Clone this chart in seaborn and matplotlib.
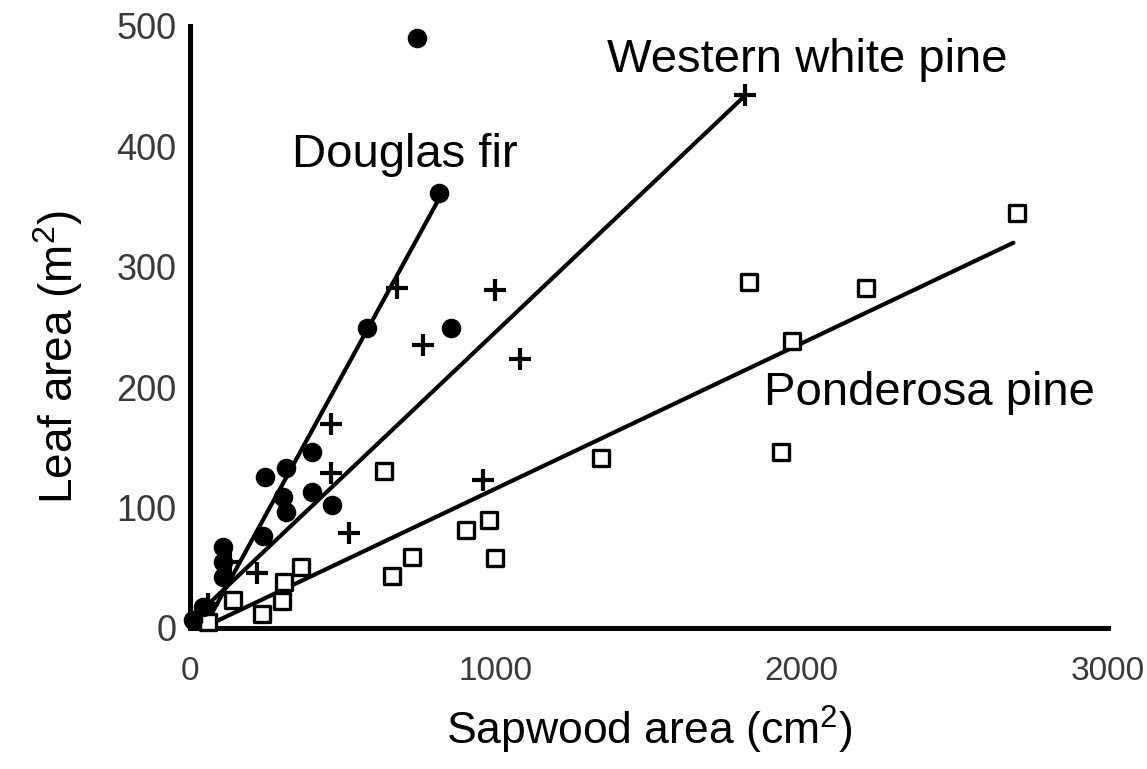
import numpy as np
import pandas as pd
import matplotlib
matplotlib.use("Agg")
import matplotlib.pyplot as plt
import seaborn as sns

# data (sapwood area cm2, leaf area m2)
fir_x = [743, 815, 578, 854, 399, 315, 244, 399, 305, 315, 464, 240, 107, 107, 107, 42, 10]
fir_y = [490, 361, 249, 249, 146, 133, 125, 113, 109, 96, 102, 76, 67, 55, 42, 17, 7]

wwp_x = [1815, 675, 997, 763, 1078, 461, 461, 958, 519, 218, 130, 60]
wwp_y = [443, 282, 281, 235, 223, 169, 129, 123, 79, 46, 55, 20]

pp_x = [2705, 1828, 2211, 1968, 1932, 1344, 633, 977, 903, 997, 724, 659, 364, 308, 302, 234, 140, 60]
pp_y = [345, 287, 282, 238, 146, 141, 130, 90, 81, 58, 59, 43, 51, 38, 22, 12, 23, 5]

# fitted lines, end points
fir_fit_x = [45, 815]
fir_fit_y = [0, 357]
wwp_fit_x = [40, 1818]
wwp_fit_y = [15, 443]
pp_fit_x = [40, 2692]
pp_fit_y = [0, 320]

sns.set_style("white")
plt.rcParams["font.family"] = ["Liberation Sans", "DejaVu Sans"]
plt.rcParams["mathtext.fontset"] = "custom"
plt.rcParams["mathtext.rm"] = "Liberation Sans"
plt.rcParams["text.color"] = "black"
plt.rcParams["axes.labelcolor"] = "black"

fig = plt.figure(figsize=(11.47, 7.69), dpi=100)
ax = fig.add_axes([0.1657, 0.1834, 0.8, 0.7828])

fir = pd.DataFrame({"x": fir_x, "y": fir_y})
wwp = pd.DataFrame({"x": wwp_x, "y": wwp_y})
pp = pd.DataFrame({"x": pp_x, "y": pp_y})

# fit lines
for fx, fy in [(fir_fit_x, fir_fit_y), (wwp_fit_x, wwp_fit_y), (pp_fit_x, pp_fit_y)]:
    sns.lineplot(x=fx, y=fy, ax=ax, color="black", linewidth=3, clip_on=False)

sns.scatterplot(data=pp, x="x", y="y", ax=ax, marker="s", s=130,
                facecolor="white", edgecolor="black", linewidth=2.4, clip_on=False, zorder=3)
sns.scatterplot(data=wwp, x="x", y="y", ax=ax, marker="+", s=260,
                color="black", linewidth=3, clip_on=False, zorder=4)
sns.scatterplot(data=fir, x="x", y="y", ax=ax, marker="o", s=170,
                color="black", edgecolor="black", clip_on=False, zorder=5)

ax.set_xlim(0, 3000)
ax.set_ylim(0, 500)
ax.set_xticks([0, 500, 1000, 1500, 2000, 2500, 3000])
ax.set_xticklabels(["0", "", "1000", "", "2000", "", "3000"])
ax.set_yticks([0, 100, 200, 300, 400, 500])

sns.despine(ax=ax)
for side in ["left", "bottom"]:
    ax.spines[side].set_linewidth(3.6)
    ax.spines[side].set_color("black")

ax.tick_params(axis="y", direction="in", length=23, width=2.6, color="black",
               labelsize=26, labelcolor="#3a3a3a", pad=10)
ax.tick_params(axis="x", direction="in", length=23, width=2.2, color="black",
               labelsize=24, labelcolor="#3a3a3a", pad=20)

ax.set_xlabel(r"Sapwood area (cm$\mathregular{^2}$)", fontsize=32, labelpad=12)
ax.set_ylabel(r"Leaf area (m$\mathregular{^2}$)", fontsize=33)
ax.yaxis.set_label_coords(-0.115, 0.45)

ax.text(334, 393, "Douglas fir", fontsize=34, va="center", ha="left", color="black")
ax.text(1364, 472, "Western white pine", fontsize=34, va="center", ha="left", color="black")
ax.text(1877, 195, "Ponderosa pine", fontsize=34, va="center", ha="left", color="black")

fig.savefig("out.png", dpi=100)
